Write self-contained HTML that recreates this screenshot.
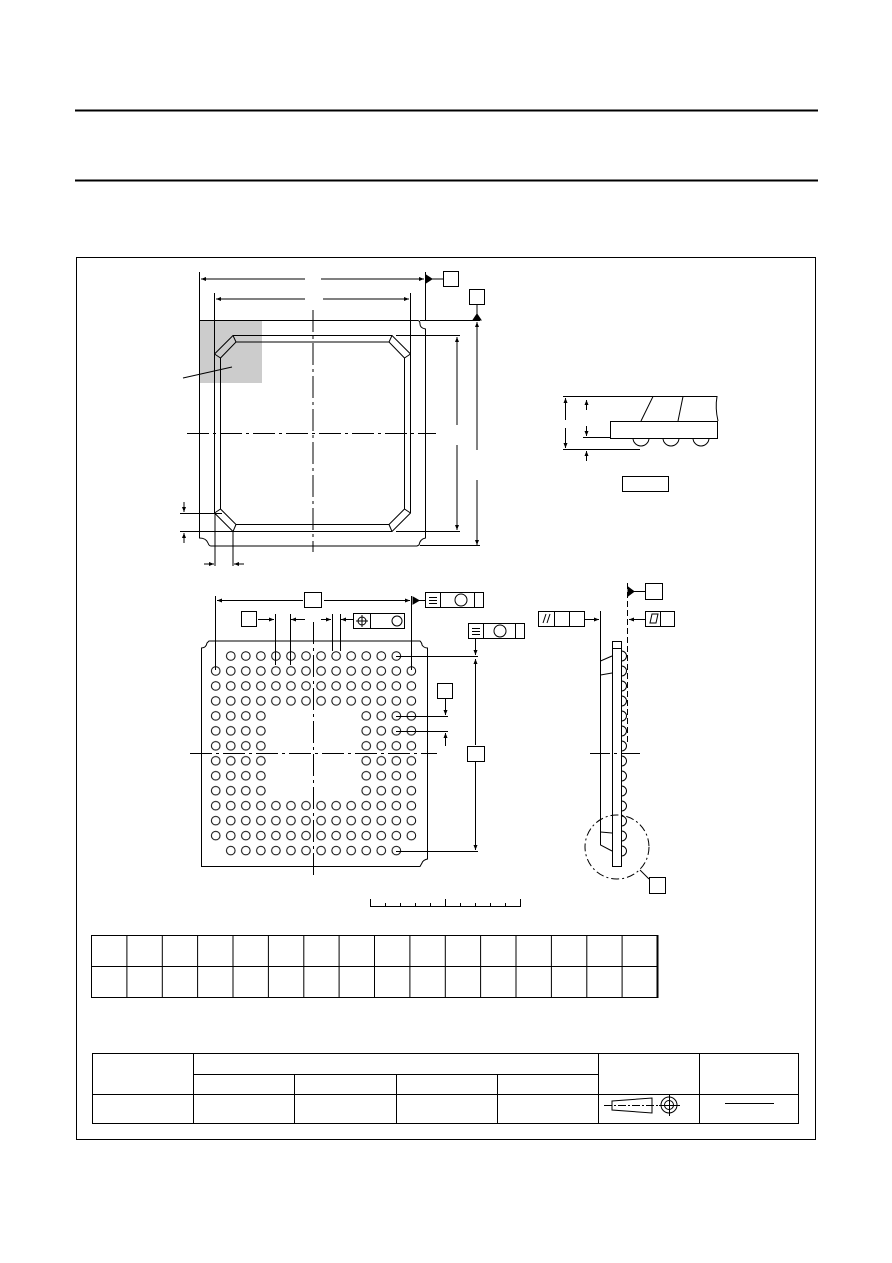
<!DOCTYPE html>
<html><head><meta charset="utf-8"><style>
html,body{margin:0;padding:0;background:#fff;}
svg{display:block;}
</style></head><body>
<svg width="892" height="1263" viewBox="0 0 892 1263" xmlns="http://www.w3.org/2000/svg" fill="none" stroke="#000" stroke-width="1">
<defs>
<marker id="a" viewBox="0 0 10 10" refX="10" refY="5" markerWidth="7" markerHeight="5" orient="auto-start-reverse" markerUnits="userSpaceOnUse"><path d="M0,1 L10,5 L0,9 z" fill="#000" stroke="none"/></marker>
<pattern id="balls" patternUnits="userSpaceOnUse" x="208.2" y="648.5" width="15.05" height="14.97">
<circle cx="7.525" cy="7.485" r="4.3" fill="none" stroke="#000" stroke-width="1"/>
</pattern>
</defs>
<!-- header lines -->
<line x1="75" y1="110.5" x2="818" y2="110.5" stroke-width="2"/>
<line x1="75" y1="180.5" x2="818" y2="180.5" stroke-width="2"/>
<!-- frame -->
<rect x="76.5" y="257.5" width="739" height="882"/>

<!-- TOP VIEW -->
<rect x="199" y="320" width="63" height="63" fill="#ccc" stroke="none"/>
<path d="M199.5,320.5 H417 Q420,320 420,324 Q420,328 425.5,329 V538 Q420,539 419,545 L417,546 H211 Q209,546 208,543 Q206,538 199.5,538 Z"/>
<path d="M233,335.5 H392 L410.5,354 V513 L392,531.5 H233 L214.5,513 V354 Z"/>
<path d="M236,342 H389 L404.5,358 V509 L389,524.5 H236 L220.5,509 V358 Z"/>
<line x1="233" y1="335.5" x2="236" y2="342"/><line x1="392" y1="335.5" x2="389" y2="342"/>
<line x1="214.5" y1="354" x2="220.5" y2="358"/><line x1="410.5" y1="354" x2="404.5" y2="358"/>
<line x1="214.5" y1="513" x2="220.5" y2="509"/><line x1="410.5" y1="513" x2="404.5" y2="509"/>
<line x1="233" y1="531.5" x2="236" y2="524.5"/><line x1="392" y1="531.5" x2="389" y2="524.5"/>
<line x1="183" y1="378" x2="232" y2="367"/>
<!-- centerlines -->
<line x1="313" y1="310" x2="313" y2="552" stroke-dasharray="22,4,3,4"/>
<line x1="187" y1="433.5" x2="436" y2="433.5" stroke-dasharray="22,4,3,4"/>
<!-- dims top -->
<line x1="199.5" y1="272" x2="199.5" y2="320"/>
<line x1="425.5" y1="272" x2="425.5" y2="320"/>
<line x1="201" y1="279" x2="305" y2="279" marker-start="url(#a)"/>
<line x1="321" y1="279" x2="424" y2="279" marker-end="url(#a)"/>
<line x1="426" y1="279" x2="443" y2="279"/>
<path d="M426,275 L432,279 L426,283 z" fill="#000"/>
<rect x="443.5" y="271.5" width="15" height="15"/>
<rect x="469.5" y="289.5" width="15" height="15"/>
<line x1="214.5" y1="293" x2="214.5" y2="355"/>
<line x1="410.5" y1="293" x2="410.5" y2="355"/>
<line x1="216" y1="299" x2="305" y2="299" marker-start="url(#a)"/>
<line x1="323" y1="299" x2="409" y2="299" marker-end="url(#a)"/>
<!-- right dims -->
<line x1="420" y1="320.5" x2="480" y2="320.5"/>
<line x1="477" y1="305" x2="477" y2="320"/>
<path d="M473,320 L477,314 L481,320 z" fill="#000"/>
<line x1="477" y1="322" x2="477" y2="450" marker-start="url(#a)"/>
<line x1="477" y1="480" x2="477" y2="545" marker-end="url(#a)"/>
<line x1="420" y1="545.5" x2="480" y2="545.5"/>
<line x1="396" y1="335.5" x2="460" y2="335.5"/>
<line x1="396" y1="531.5" x2="460" y2="531.5"/>
<line x1="457" y1="337" x2="457" y2="425" marker-start="url(#a)"/>
<line x1="457" y1="445" x2="457" y2="530" marker-end="url(#a)"/>
<!-- bottom-left small dims -->
<line x1="180" y1="513.5" x2="222" y2="513.5"/>
<line x1="180" y1="531.5" x2="233" y2="531.5"/>
<line x1="184" y1="502" x2="184" y2="512" marker-end="url(#a)"/>
<line x1="184" y1="543" x2="184" y2="533" marker-end="url(#a)"/>
<line x1="215" y1="513" x2="215" y2="566"/>
<line x1="233" y1="531" x2="233" y2="566"/>
<line x1="204" y1="564" x2="214" y2="564" marker-end="url(#a)"/>
<line x1="244" y1="564" x2="234" y2="564" marker-end="url(#a)"/>

<!-- SIDE DETAIL -->
<rect x="610.5" y="421.5" width="107" height="17"/>
<path d="M641,421 L653,396.5 H717 Q715,408 718,421"/>
<line x1="678" y1="421" x2="683" y2="396.5"/>
<path d="M633,438 A8,8 0 0 0 649,438 M663,438 A8,8 0 0 0 679,438 M693,438 A8,8 0 0 0 709,438"/>
<line x1="563" y1="396.5" x2="653" y2="396.5"/>
<line x1="583" y1="437.5" x2="610" y2="437.5"/>
<line x1="563" y1="449.5" x2="640" y2="449.5"/>
<line x1="565.5" y1="398" x2="565.5" y2="420" marker-start="url(#a)"/>
<line x1="565.5" y1="428" x2="565.5" y2="448" marker-end="url(#a)"/>
<line x1="586.5" y1="400" x2="586.5" y2="410" marker-start="url(#a)"/>
<line x1="586.5" y1="426" x2="586.5" y2="436" marker-end="url(#a)"/>
<line x1="586.5" y1="461" x2="586.5" y2="451" marker-end="url(#a)"/>
<rect x="622.5" y="476.5" width="46" height="15"/>

<!-- BOTTOM VIEW -->
<path d="M201.5,648 Q206,648 207,643 L209,641 H420 Q422,643 422,645 Q424,648 427.5,648 V859 Q423,860 422,863 L420,866.5 H201.5 Z"/>
<rect x="223.25" y="648.5" width="180.6" height="14.97" fill="url(#balls)" stroke="none"/>
<rect x="208.2" y="663.47" width="210.7" height="44.91" fill="url(#balls)" stroke="none"/>
<rect x="208.2" y="708.38" width="60.2" height="89.82" fill="url(#balls)" stroke="none"/>
<rect x="358.7" y="708.38" width="60.2" height="89.82" fill="url(#balls)" stroke="none"/>
<rect x="208.2" y="798.2" width="210.7" height="44.91" fill="url(#balls)" stroke="none"/>
<rect x="223.25" y="843.1" width="180.6" height="14.97" fill="url(#balls)" stroke="none"/>
<line x1="313.5" y1="622" x2="313.5" y2="877" stroke-dasharray="22,4,3,4"/>
<line x1="190" y1="753.5" x2="437" y2="753.5" stroke-dasharray="22,4,3,4"/>
<!-- dims -->
<line x1="215.5" y1="596" x2="215.5" y2="670"/>
<line x1="411.5" y1="596" x2="411.5" y2="670"/>
<line x1="217" y1="600.5" x2="303" y2="600.5" marker-start="url(#a)"/>
<line x1="324" y1="600.5" x2="410" y2="600.5" marker-end="url(#a)"/>
<rect x="304.5" y="592.5" width="17" height="15"/>
<line x1="413" y1="600.5" x2="425" y2="600.5"/>
<path d="M413,597 L419,600.5 L413,604 z" fill="#000"/>
<rect x="425.5" y="592.5" width="58" height="15"/>
<line x1="440.5" y1="592" x2="440.5" y2="607"/><line x1="474.5" y1="592" x2="474.5" y2="607"/>
<line x1="429" y1="597.5" x2="437" y2="597.5"/><line x1="429" y1="600.5" x2="437" y2="600.5"/><line x1="429" y1="603.5" x2="437" y2="603.5"/>
<circle cx="461" cy="600" r="6"/>
<rect x="241.5" y="611.5" width="15" height="15"/>
<line x1="258" y1="619.5" x2="274" y2="619.5" marker-end="url(#a)"/>
<line x1="275.5" y1="614" x2="275.5" y2="665"/>
<line x1="290.5" y1="614" x2="290.5" y2="665"/>
<line x1="305" y1="619.5" x2="291" y2="619.5" marker-end="url(#a)"/>
<line x1="321" y1="619.5" x2="331" y2="619.5" marker-end="url(#a)"/>
<line x1="332.5" y1="614" x2="332.5" y2="651"/>
<line x1="340.5" y1="614" x2="340.5" y2="651"/>
<line x1="353" y1="619.5" x2="341" y2="619.5" marker-end="url(#a)"/>
<rect x="353.5" y="613.5" width="51" height="15"/>
<line x1="370.5" y1="613" x2="370.5" y2="628"/>
<circle cx="362" cy="621" r="4"/><line x1="356" y1="621" x2="368" y2="621"/><line x1="362" y1="615" x2="362" y2="627"/>
<circle cx="397" cy="621" r="5"/>
<rect x="468.5" y="623.5" width="56" height="15"/>
<line x1="483.5" y1="623" x2="483.5" y2="638"/><line x1="515.5" y1="623" x2="515.5" y2="638"/>
<line x1="472" y1="628.5" x2="480" y2="628.5"/><line x1="472" y1="631.5" x2="480" y2="631.5"/><line x1="472" y1="634.5" x2="480" y2="634.5"/>
<circle cx="500" cy="631" r="6"/>
<line x1="475.5" y1="639" x2="475.5" y2="655" marker-end="url(#a)"/>
<line x1="396" y1="656.5" x2="478" y2="656.5"/>
<line x1="475.5" y1="659" x2="475.5" y2="745" marker-start="url(#a)"/>
<line x1="475.5" y1="762" x2="475.5" y2="850" marker-end="url(#a)"/>
<line x1="396" y1="851.5" x2="478" y2="851.5"/>
<rect x="467.5" y="746.5" width="17" height="15"/>
<rect x="437.5" y="683.5" width="15" height="15"/>
<line x1="396" y1="716.5" x2="448" y2="716.5"/>
<line x1="396" y1="731.5" x2="448" y2="731.5"/>
<line x1="445.5" y1="699" x2="445.5" y2="715" marker-end="url(#a)"/>
<line x1="445.5" y1="746" x2="445.5" y2="733" marker-end="url(#a)"/>

<!-- SIDE VIEW -->
<rect x="612.5" y="641.5" width="9" height="225"/>
<line x1="612.5" y1="648.5" x2="621.5" y2="648.5"/>
<path d="M621.5,651 A5,5 0 0 1 621.5,661 M621.5,666 A5,5 0 0 1 621.5,676 M621.5,681 A5,5 0 0 1 621.5,691 M621.5,696 A5,5 0 0 1 621.5,706 M621.5,711 A5,5 0 0 1 621.5,721 M621.5,726 A5,5 0 0 1 621.5,736 M621.5,741 A5,5 0 0 1 621.5,751 M621.5,756 A5,5 0 0 1 621.5,766 M621.5,771 A5,5 0 0 1 621.5,781 M621.5,786 A5,5 0 0 1 621.5,796 M621.5,801 A5,5 0 0 1 621.5,811 M621.5,816 A5,5 0 0 1 621.5,826 M621.5,831 A5,5 0 0 1 621.5,841 M621.5,846 A5,5 0 0 1 621.5,856"/>
<path d="M612,656 L600.5,661 V845 L612,851"/>
<line x1="600.5" y1="675" x2="612" y2="673"/>
<line x1="600.5" y1="832" x2="612" y2="833"/>
<line x1="600.5" y1="611" x2="600.5" y2="661"/>
<line x1="627.5" y1="583" x2="627.5" y2="745" stroke-dasharray="6,3"/>
<line x1="590" y1="753.5" x2="640" y2="753.5" stroke-dasharray="20,4,3,4"/>
<line x1="628" y1="591.5" x2="645" y2="591.5"/>
<path d="M628,587 L634,591.5 L628,596 z" fill="#000"/>
<rect x="645.5" y="583.5" width="17" height="16"/>
<rect x="538.5" y="611.5" width="46" height="15"/>
<line x1="554.5" y1="611" x2="554.5" y2="626"/><line x1="569.5" y1="611" x2="569.5" y2="626"/>
<line x1="543" y1="623" x2="546" y2="614"/><line x1="547" y1="623" x2="550" y2="614"/>
<line x1="585" y1="619.5" x2="599" y2="619.5" marker-end="url(#a)"/>
<line x1="645" y1="619.5" x2="629" y2="619.5" marker-end="url(#a)"/>
<rect x="645.5" y="611.5" width="29" height="15"/>
<line x1="660.5" y1="611" x2="660.5" y2="626"/>
<path d="M650,623 L652,614 H658 L656,623 Z"/>
<circle cx="617" cy="847" r="32" stroke-dasharray="8,3,2,3"/>
<line x1="640" y1="870" x2="649" y2="879"/>
<rect x="649.5" y="877.5" width="16" height="16"/>

<!-- scale bar -->
<path d="M370.5,899 V906.5 H520.5 V899"/>
<path d="M385.5,903 V906 M400.5,903 V906 M415.5,903 V906 M430.5,903 V906 M445.5,899 V906 M460.5,903 V906 M475.5,903 V906 M490.5,903 V906 M505.5,903 V906"/>

<!-- dimension table -->
<rect x="91.5" y="935.5" width="566" height="62"/>
<line x1="91" y1="966.5" x2="657" y2="966.5"/>
<path d="M126.9,935 V997 M162.3,935 V997 M197.6,935 V997 M233,935 V997 M268.4,935 V997 M303.8,935 V997 M339.1,935 V997 M374.5,935 V997 M409.9,935 V997 M445.3,935 V997 M480.6,935 V997 M516,935 V997 M551.4,935 V997 M586.8,935 V997 M622.1,935 V997"/>
<line x1="657.5" y1="935" x2="657.5" y2="998" stroke-width="2"/>

<!-- bottom table -->
<rect x="92.5" y="1053.5" width="706" height="70"/>
<line x1="92" y1="1094.5" x2="799" y2="1094.5"/>
<line x1="193" y1="1074.5" x2="598" y2="1074.5"/>
<path d="M193.5,1053 V1123 M598.5,1053 V1123 M699.5,1053 V1123 M294.5,1074 V1123 M396.5,1074 V1123 M497.5,1074 V1123"/>
<path d="M612,1101 L652,1098 V1113 L612,1110 Z"/>
<line x1="604" y1="1105.5" x2="658" y2="1105.5" stroke-dasharray="8,2,2,2"/>
<circle cx="669" cy="1105" r="8"/><circle cx="669" cy="1105" r="4.5"/>
<line x1="659" y1="1105.5" x2="680" y2="1105.5"/><line x1="669.5" y1="1094" x2="669.5" y2="1116"/>
<line x1="725" y1="1103.5" x2="774" y2="1103.5"/>
</svg>
</body></html>
